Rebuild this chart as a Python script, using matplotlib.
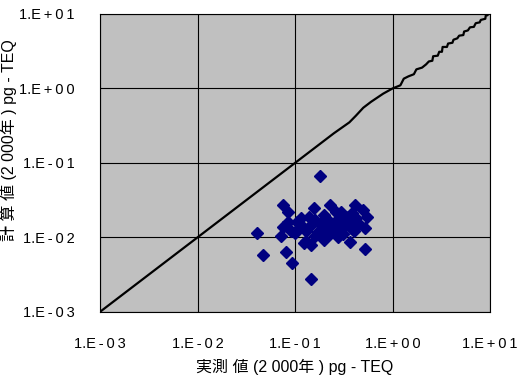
import math
import matplotlib
matplotlib.use("Agg")
import matplotlib.pyplot as plt
from matplotlib.ticker import FixedLocator, FuncFormatter

# 実測値 vs 計算値 (pg-TEQ)
measured = [0.041, 0.047, 0.080, 0.092, 0.147, 0.179, 0.075, 0.071, 0.076, 0.084,
            0.155, 0.226, 0.409, 0.494, 0.54, 0.517, 0.363, 0.517, 0.114, 0.122,
            0.144, 0.13, 0.17, 0.196, 0.249, 0.315, 0.216, 0.294, 0.273, 0.371,
            0.144, 0.11, 0.10, 0.105, 0.12, 0.14, 0.16, 0.18, 0.19, 0.21,
            0.23, 0.25, 0.27, 0.30, 0.33, 0.35, 0.38, 0.42, 0.45, 0.40,
            0.31, 0.16, 0.13, 0.20, 0.26, 0.085, 0.09]
calculated = [0.0115, 0.0058, 0.0064, 0.0045, 0.0028, 0.067, 0.027, 0.0104, 0.014, 0.022,
              0.025, 0.027, 0.027, 0.023, 0.019, 0.0135, 0.0086, 0.0070, 0.018, 0.0084,
              0.0079, 0.012, 0.0118, 0.0092, 0.0118, 0.0147, 0.0172, 0.0221, 0.0101, 0.0135,
              0.0147, 0.0135, 0.0115, 0.016, 0.014, 0.019, 0.017, 0.015, 0.0125, 0.014,
              0.011, 0.015, 0.017, 0.013, 0.019, 0.016, 0.021, 0.018, 0.015, 0.012,
              0.011, 0.0105, 0.009, 0.020, 0.022, 0.016, 0.012]

# 1:1 reference line (stepped near the top as in the original)
line_x = [0.001, 0.01, 0.1, 0.25, 0.36, 0.42, 0.5, 0.6, 0.8, 1.0, 1.2, 1.3, 1.45, 1.65,
          1.75, 2.0, 2.2, 2.35, 2.55, 2.6, 2.9, 3.0, 3.2, 3.25, 3.6, 3.7, 4.1, 4.2, 4.6,
          4.8, 5.3, 5.4, 5.9, 6.2, 6.8, 7.1, 7.8, 8.0, 8.9, 9.0, 9.4, 9.5]
line_y = [0.001, 0.01, 0.1, 0.25, 0.35, 0.43, 0.55, 0.66, 0.85, 1.0, 1.1, 1.35, 1.45, 1.55,
          1.8, 1.9, 2.1, 2.3, 2.35, 2.7, 2.75, 3.1, 3.1, 3.6, 3.6, 4.0, 4.1, 4.5, 4.7,
          5.1, 5.2, 5.8, 6.0, 6.6, 6.7, 7.5, 7.7, 8.3, 8.6, 9.5, 9.6, 10.2]

ticks = [1e-3, 1e-2, 1e-1, 1e0, 1e1]

plt.rcParams['font.family'] = ['Liberation Sans', 'DejaVu Sans', 'Noto Sans CJK JP']
fam = ['Liberation Sans', 'Noto Sans CJK JP']


def tick_fmt(v, pos):
    s = "1.E%+03d" % round(math.log10(v))
    # wide letter spacing like the original
    return s[:2] + "\u2009".join(s[2:])


fig = plt.figure(figsize=(5.26, 3.86), dpi=100)
ax = fig.add_axes([0.190, 0.192, 0.742, 0.772])
ax.set_facecolor('#c0c0c0')

ax.plot(line_x, line_y, color='black', lw=1.6, zorder=3)
ax.plot(measured, calculated, linestyle='none', marker='D', ms=6,
        color='#000080', zorder=4)

ax.set_xscale('log')
ax.set_yscale('log')
ax.set_xlim(1e-3, 1e1)
ax.set_ylim(1e-3, 1e1)
for axis in (ax.xaxis, ax.yaxis):
    axis.set_major_locator(FixedLocator(ticks))
    axis.set_major_formatter(FuncFormatter(tick_fmt))
    axis.set_minor_locator(FixedLocator([]))
ax.tick_params(length=0, labelsize=10.5)
ax.tick_params(axis='x', pad=18)
ax.tick_params(axis='y', pad=18)
ax.grid(True, color='black', lw=0.8)
for s in ax.spines.values():
    s.set_color('black')
    s.set_linewidth(0.8)

ax.set_xlabel("実測 値 (2 000年 ) pg - TEQ", family=fam, fontsize=11.5, labelpad=6)
fig.text(0.002, 0.637, "計 算 値 (2 000年 ) pg - TEQ", family=fam, fontsize=11.5,
         rotation=90, ha='left', va='center')

fig.savefig("out.png", dpi=100)
